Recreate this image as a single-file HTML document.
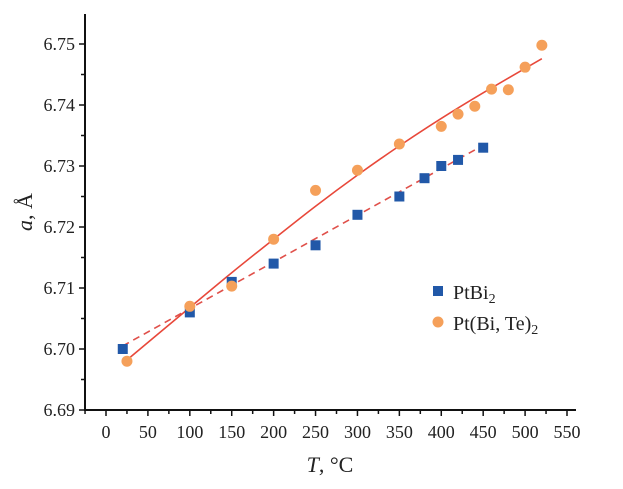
<!DOCTYPE html>
<html><head><meta charset="utf-8"><style>
body{margin:0;background:#fff}
svg text{font-family:"Liberation Serif",serif;fill:#222}
</style></head><body>
<svg id="chart" width="623" height="484" xmlns="http://www.w3.org/2000/svg">
<g id="axes"></g>
<g id="fits"></g>
<g id="marks"></g>
<g>
<rect x="433" y="286" width="10" height="10" fill="#2158a8"/>
<text x="453" y="299" font-size="20">PtBi<tspan font-size="14" dy="4">2</tspan></text>
<circle cx="438" cy="322" r="5.5" fill="#f5a05a"/>
<text x="453" y="330" font-size="20">Pt(Bi, Te)<tspan font-size="14" dy="4">2</tspan></text>
</g>
<text x="330" y="472" font-size="22" text-anchor="middle"><tspan font-style="italic">T</tspan>, °C</text>
<text transform="translate(32,212) rotate(-90)" font-size="22" text-anchor="middle"><tspan font-style="italic">a</tspan>, Å</text>
</svg>
<script>
const xTicks=[0,50,100,150,200,250,300,350,400,450,500,550];
const yTicks=[6.69,6.70,6.71,6.72,6.73,6.74,6.75];
const ptbiT=[20,100,150,200,250,300,350,380,400,420,450];
const ptbiA=[6.700,6.706,6.711,6.714,6.717,6.722,6.725,6.728,6.730,6.731,6.733];
const ptteT=[25,100,150,200,250,300,350,400,420,440,460,480,500,520];
const ptteA=[6.698,6.707,6.7103,6.718,6.726,6.7293,6.7336,6.7365,6.7385,6.7398,6.7426,6.7425,6.7462,6.7498];
const dashT=[20,450];
const dashA=[6.7005,6.7334];
const fitT=[25,100,150,200,250,300,350,400,450,520];
const fitA=[6.6982,6.7068,6.7125,6.7180,6.7234,6.7285,6.7333,6.7378,6.7420,6.7476];

const NS="http://www.w3.org/2000/svg";
const X0=85,X1=576,Y0=410,Y1=14;
const xs=t=>106+t*(461/550);
const ys=a=>410-(a-6.69)*6100;
function mk(tag,attrs,parent){const e=document.createElementNS(NS,tag);for(const k in attrs)e.setAttribute(k,attrs[k]);parent.appendChild(e);return e;}
const axes=document.getElementById('axes'),fits=document.getElementById('fits'),marks=document.getElementById('marks');
let e=mk('line',{x1:X0,y1:Y0,x2:X1,y2:Y0,stroke:'#111','stroke-width':2},axes);


e=mk('line',{x1:X0,y1:Y0+1,x2:X0,y2:Y1,stroke:'#111','stroke-width':2},axes);


for(let t=-25;t<=575;t+=25){const x=xs(t);if(x<X0||x>X1)continue;const major=t%50===0;
 e=mk('line',{x1:x,y1:Y0,x2:x,y2:Y0+(major?6:4),stroke:'#111','stroke-width':1.5},axes);
 
 }
xTicks.forEach(t=>{e=mk('text',{x:xs(t),y:438,'font-size':18,'text-anchor':'middle'},axes);e.textContent=t;
 
 });
for(let i=0;i<=13;i++){const a=6.69+i*0.005;const y=ys(a);if(y<Y1)continue;
 e=mk('line',{x1:X0-(i%2===0?6:4),y1:y,x2:X0,y2:y,stroke:'#111','stroke-width':1.5},axes);
 
 }
yTicks.forEach(a=>{e=mk('text',{x:75,y:ys(a)+6,'font-size':18,'text-anchor':'end'},axes);e.textContent=a.toFixed(2);
 
 });
e=mk('polyline',{points:dashT.map((t,i)=>xs(t)+','+ys(dashA[i])).join(' '),fill:'none',stroke:'#e0504a','stroke-width':1.6,'stroke-dasharray':'7,5'},fits);


const P=fitT.map((t,i)=>[xs(t),ys(fitA[i])]);
let d='M'+P[0][0]+','+P[0][1];
for(let i=0;i<P.length-1;i++){const p0=P[Math.max(0,i-1)],p1=P[i],p2=P[i+1],p3=P[Math.min(P.length-1,i+2)];
 d+=' C'+(p1[0]+(p2[0]-p0[0])/6)+','+(p1[1]+(p2[1]-p0[1])/6)+' '+(p2[0]-(p3[0]-p1[0])/6)+','+(p2[1]-(p3[1]-p1[1])/6)+' '+p2[0]+','+p2[1];}
e=mk('path',{d:d,fill:'none',stroke:'#e8483a','stroke-width':1.6},fits);


ptbiT.forEach((t,i)=>{e=mk('rect',{x:xs(t)-5,y:ys(ptbiA[i])-5,width:10,height:10,fill:'#2158a8'},marks);
 
 });
ptteT.forEach((t,i)=>{e=mk('circle',{cx:xs(t),cy:ys(ptteA[i]),r:5.5,fill:'#f5a05a'},marks);
 
 });
</script>
</body></html>
